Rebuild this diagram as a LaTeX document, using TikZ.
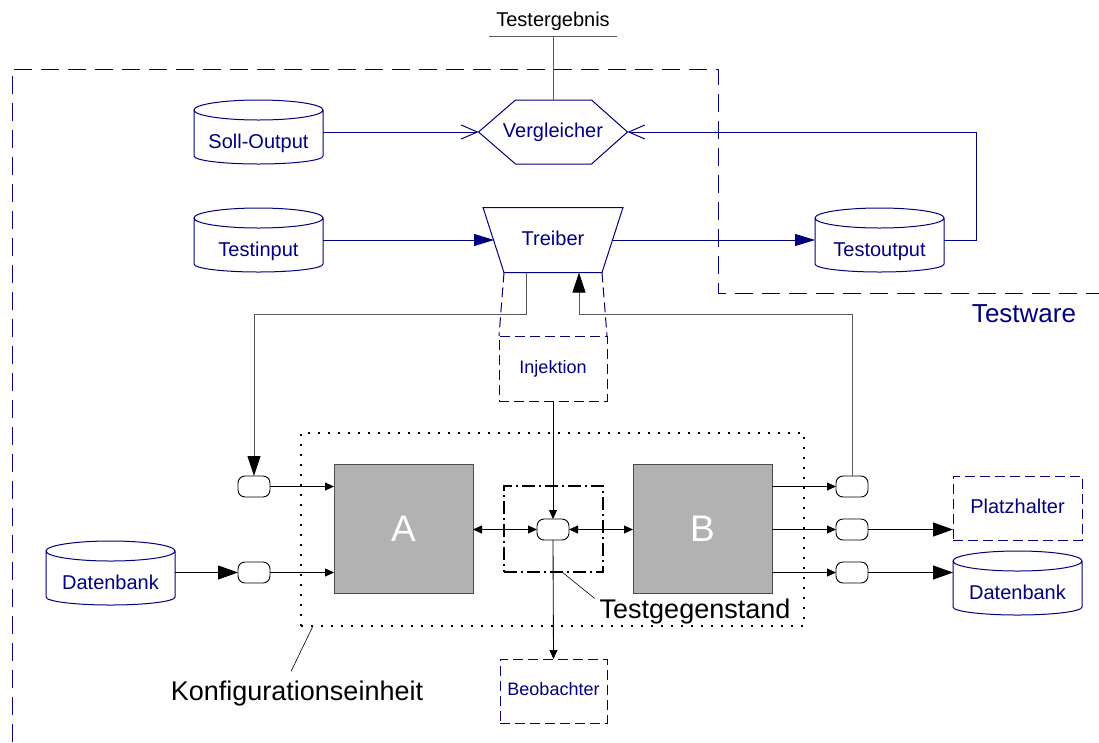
\documentclass[tikz,border=0pt]{standalone}
\usepackage{fontspec}
\setmainfont{Liberation Sans}
\usetikzlibrary{arrows.meta,calc}
\definecolor{navyblue}{HTML}{000080}
\definecolor{boxgray}{HTML}{B2B2B2}
\definecolor{linegray}{HTML}{5A5A5A}

% data store drawn as a cylinder: name, centre, label
\newcommand\dbcyl[3]{%
  \node[cylbox] (#1) at (#2) {};
  \draw[navyline] ([yshift=-10pt]#1.north west) -- ([yshift=8pt]#1.south west)
     arc[start angle=180, end angle=360, x radius=64.5pt, y radius=8pt]
     -- ([yshift=-10pt]#1.north east)
     arc[start angle=0, end angle=360, x radius=64.5pt, y radius=10pt];
  \node[btxt] at ([yshift=-11pt]#1.center) {#3};
}

\begin{document}
\begin{tikzpicture}[x=1pt,y=-1pt,
  every node/.style={inner sep=0pt, outer sep=0pt},
  navyline/.style={draw=navyblue, line width=1pt},
  blacklink/.style={draw=black, line width=0.85pt},
  graylink/.style={draw=linegray, line width=1pt},
  btxt/.style={text=navyblue, font=\fontsize{20}{24}\selectfont, text height=14.5pt, text depth=4.2pt},
  stxt/.style={text=navyblue, font=\fontsize{18}{22}\selectfont, text height=13pt, text depth=3.8pt},
  ktxt/.style={text=black, font=\fontsize{27}{32}\selectfont, anchor=base},
  cylbox/.style={minimum width=129pt, minimum height=64pt},
  port/.style={draw=black, fill=white, line width=0.9pt, rounded corners=7pt, minimum width=32pt, minimum height=21pt},
  unit/.style={draw=black!70, fill=boxgray, line width=0.9pt, minimum width=139pt, minimum height=129pt, text=white, font=\fontsize{37}{44}\selectfont},
  dashblue/.style={draw=navyblue, dash pattern=on 10pt off 5pt, line width=1pt},
  phbox/.style={dashblue, fill=white},
  dotbox/.style={draw=black, dash pattern=on 2pt off 8pt, line width=2pt},
  dashdotbox/.style={draw=black, dash pattern=on 13pt off 4pt on 2pt off 4pt, line width=1.6pt},
  testware/.style={draw=navyblue, dash pattern=on 18pt off 9pt, line width=1pt},
  barb/.style={-{Straight Barb[length=16pt,width=14pt,line width=1pt]}},
  bluetip/.style={-{Triangle[length=20pt,width=12pt]}},
  smalltip/.style={-{Triangle[length=9pt,width=8pt]}},
  bothtip/.style={{Triangle[length=9pt,width=8pt]}-{Triangle[length=9pt,width=8pt]}},
  bigtip/.style={-{Triangle[length=20pt,width=14pt]}},
  darktip/.style={-{Triangle[length=20pt,width=13pt,color=black]}}
]
\useasboundingbox (0,0) rectangle (1099,742);

% Testware boundary
\draw[testware] (12,742) -- (12,69) -- (718,69) -- (718,293) -- (1099,293);
\node[text=navyblue, font=\fontsize{26}{31}\selectfont, anchor=base] (twlabel) at (1024,322) {Testware};

% result at the top
\node[font=\fontsize{20}{24}\selectfont, anchor=base] (res) at (553,26) {Testergebnis};
\coordinate (resbar) at (553,36);
\draw[graylink] ([xshift=-64pt]resbar) -- ([xshift=64pt]resbar);

% comparator
\node[btxt, minimum width=149pt, minimum height=64pt] (vgl) at (553,132) {Vergleicher};
\draw[navyline] (vgl.west) -- ([xshift=37pt]vgl.north west) -- ([xshift=-36pt]vgl.north east)
  -- (vgl.east) -- ([xshift=-36pt]vgl.south east) -- ([xshift=37pt]vgl.south west) -- cycle;
\draw[graylink] (vgl.north) -- (resbar);

% driver
\node[btxt, minimum width=118pt, minimum height=65pt] (drv) at (553,240) {Treiber};
\coordinate (drvBL) at ([xshift=10pt]drv.south west);
\coordinate (drvBR) at ([xshift=-10pt]drv.south east);
\draw[navyline] ([xshift=-11pt]drv.north west) -- ([xshift=11pt]drv.north east) -- (drvBR) -- (drvBL) -- cycle;

% data stores
\dbcyl{soll}{258.5,132}{Soll-Output}
\dbcyl{tin}{258.5,240}{Testinput}
\dbcyl{tout}{879.5,240}{Testoutput}
\dbcyl{db1}{110.5,573}{Datenbank}
\dbcyl{db2}{1017.5,583}{Datenbank}

\draw[navyline, barb] (soll.east) -- (vgl.west);
\draw[navyline, barb] (tout.east) -- ++(32,0) |- (vgl.east);
\draw[navyline, bluetip] (tin.east) -- (drv.west);
\draw[navyline, bluetip] (drv.east) -- (tout.west);

% injection
\node[stxt, phbox, minimum width=108pt, minimum height=65pt] (inj) at (553,368.5) {Injektion};
\draw[dashblue] (drvBL) -- (inj.north west);
\draw[dashblue] (drvBR) -- (inj.north east);

% configuration unit and test object
\node[dotbox, minimum width=503pt, minimum height=193pt] (cfg) at (552.5,529.5) {};
\node[dashdotbox, minimum width=99pt, minimum height=86pt] (tgt) at (553.5,529) {};
\node[unit] (A) at (403.5,528.5) {A};
\node[unit] (B) at (702.5,528.5) {B};

% interface points
\node[port] (pL1) at (254,486.5) {};
\node[port] (pL2) at (254,572.5) {};
\node[port] (pM) at (553,529.5) {};
\node[port] (pR1) at (852,486.5) {};
\node[port] (pR2) at (852,529.5) {};
\node[port] (pR3) at (852,572.5) {};

% observer and placeholder
\node[stxt, phbox, minimum width=107pt, minimum height=64pt] (obs) at (553.5,691) {Beobachter};
\node[btxt, phbox, minimum width=129pt, minimum height=64pt] (plh) at (1017.5,508) {Platzhalter};

% driver feedback loop
\coordinate (drvout) at (526,272.5);
\coordinate (drvin) at (579,272.5);
\coordinate (busy) at (0,314);
\draw[graylink, darktip] (drvout) -- (drvout |- busy) -| (pL1.north);
\draw[graylink, darktip] (pR1.north) -- (pR1.north |- busy) -| (drvin);

% links inside the configuration
\draw[blacklink, smalltip] (inj.south) -- (pM.north);
\draw[blacklink, smalltip] (pM.south) -- (obs.north);
\draw[blacklink, smalltip] (pL1.east) -- (pL1.east -| A.west);
\draw[blacklink, smalltip] (pL2.east) -- (pL2.east -| A.west);
\draw[blacklink, bigtip] (pL2.west -| db1.east) -- (pL2.west);
\draw[blacklink, bothtip] (pM.west -| A.east) -- (pM.west);
\draw[blacklink, bothtip] (pM.east) -- (pM.east -| B.west);
\draw[blacklink, smalltip] (pR1.west -| B.east) -- (pR1.west);
\draw[blacklink, smalltip] (pR2.west -| B.east) -- (pR2.west);
\draw[blacklink, smalltip] (pR3.west -| B.east) -- (pR3.west);
\draw[blacklink, bigtip] (pR2.east) -- (pR2.east -| plh.west);
\draw[blacklink, bigtip] (pR3.east) -- (pR3.east -| db2.west);

% labels with leader lines
\node[ktxt] (tgs) at (695,618) {Testgegenstand};
\draw[blacklink, line width=0.6pt] ([xshift=58pt]tgt.south west) -- ([xshift=-5pt]tgs.north west);
\node[ktxt] (kfg) at (297,700) {Konfigurationseinheit};
\draw[blacklink, line width=0.6pt] ([xshift=12pt]cfg.south west) -- ([shift={(-6pt,9pt)}]kfg.north);
\end{tikzpicture}
\end{document}
